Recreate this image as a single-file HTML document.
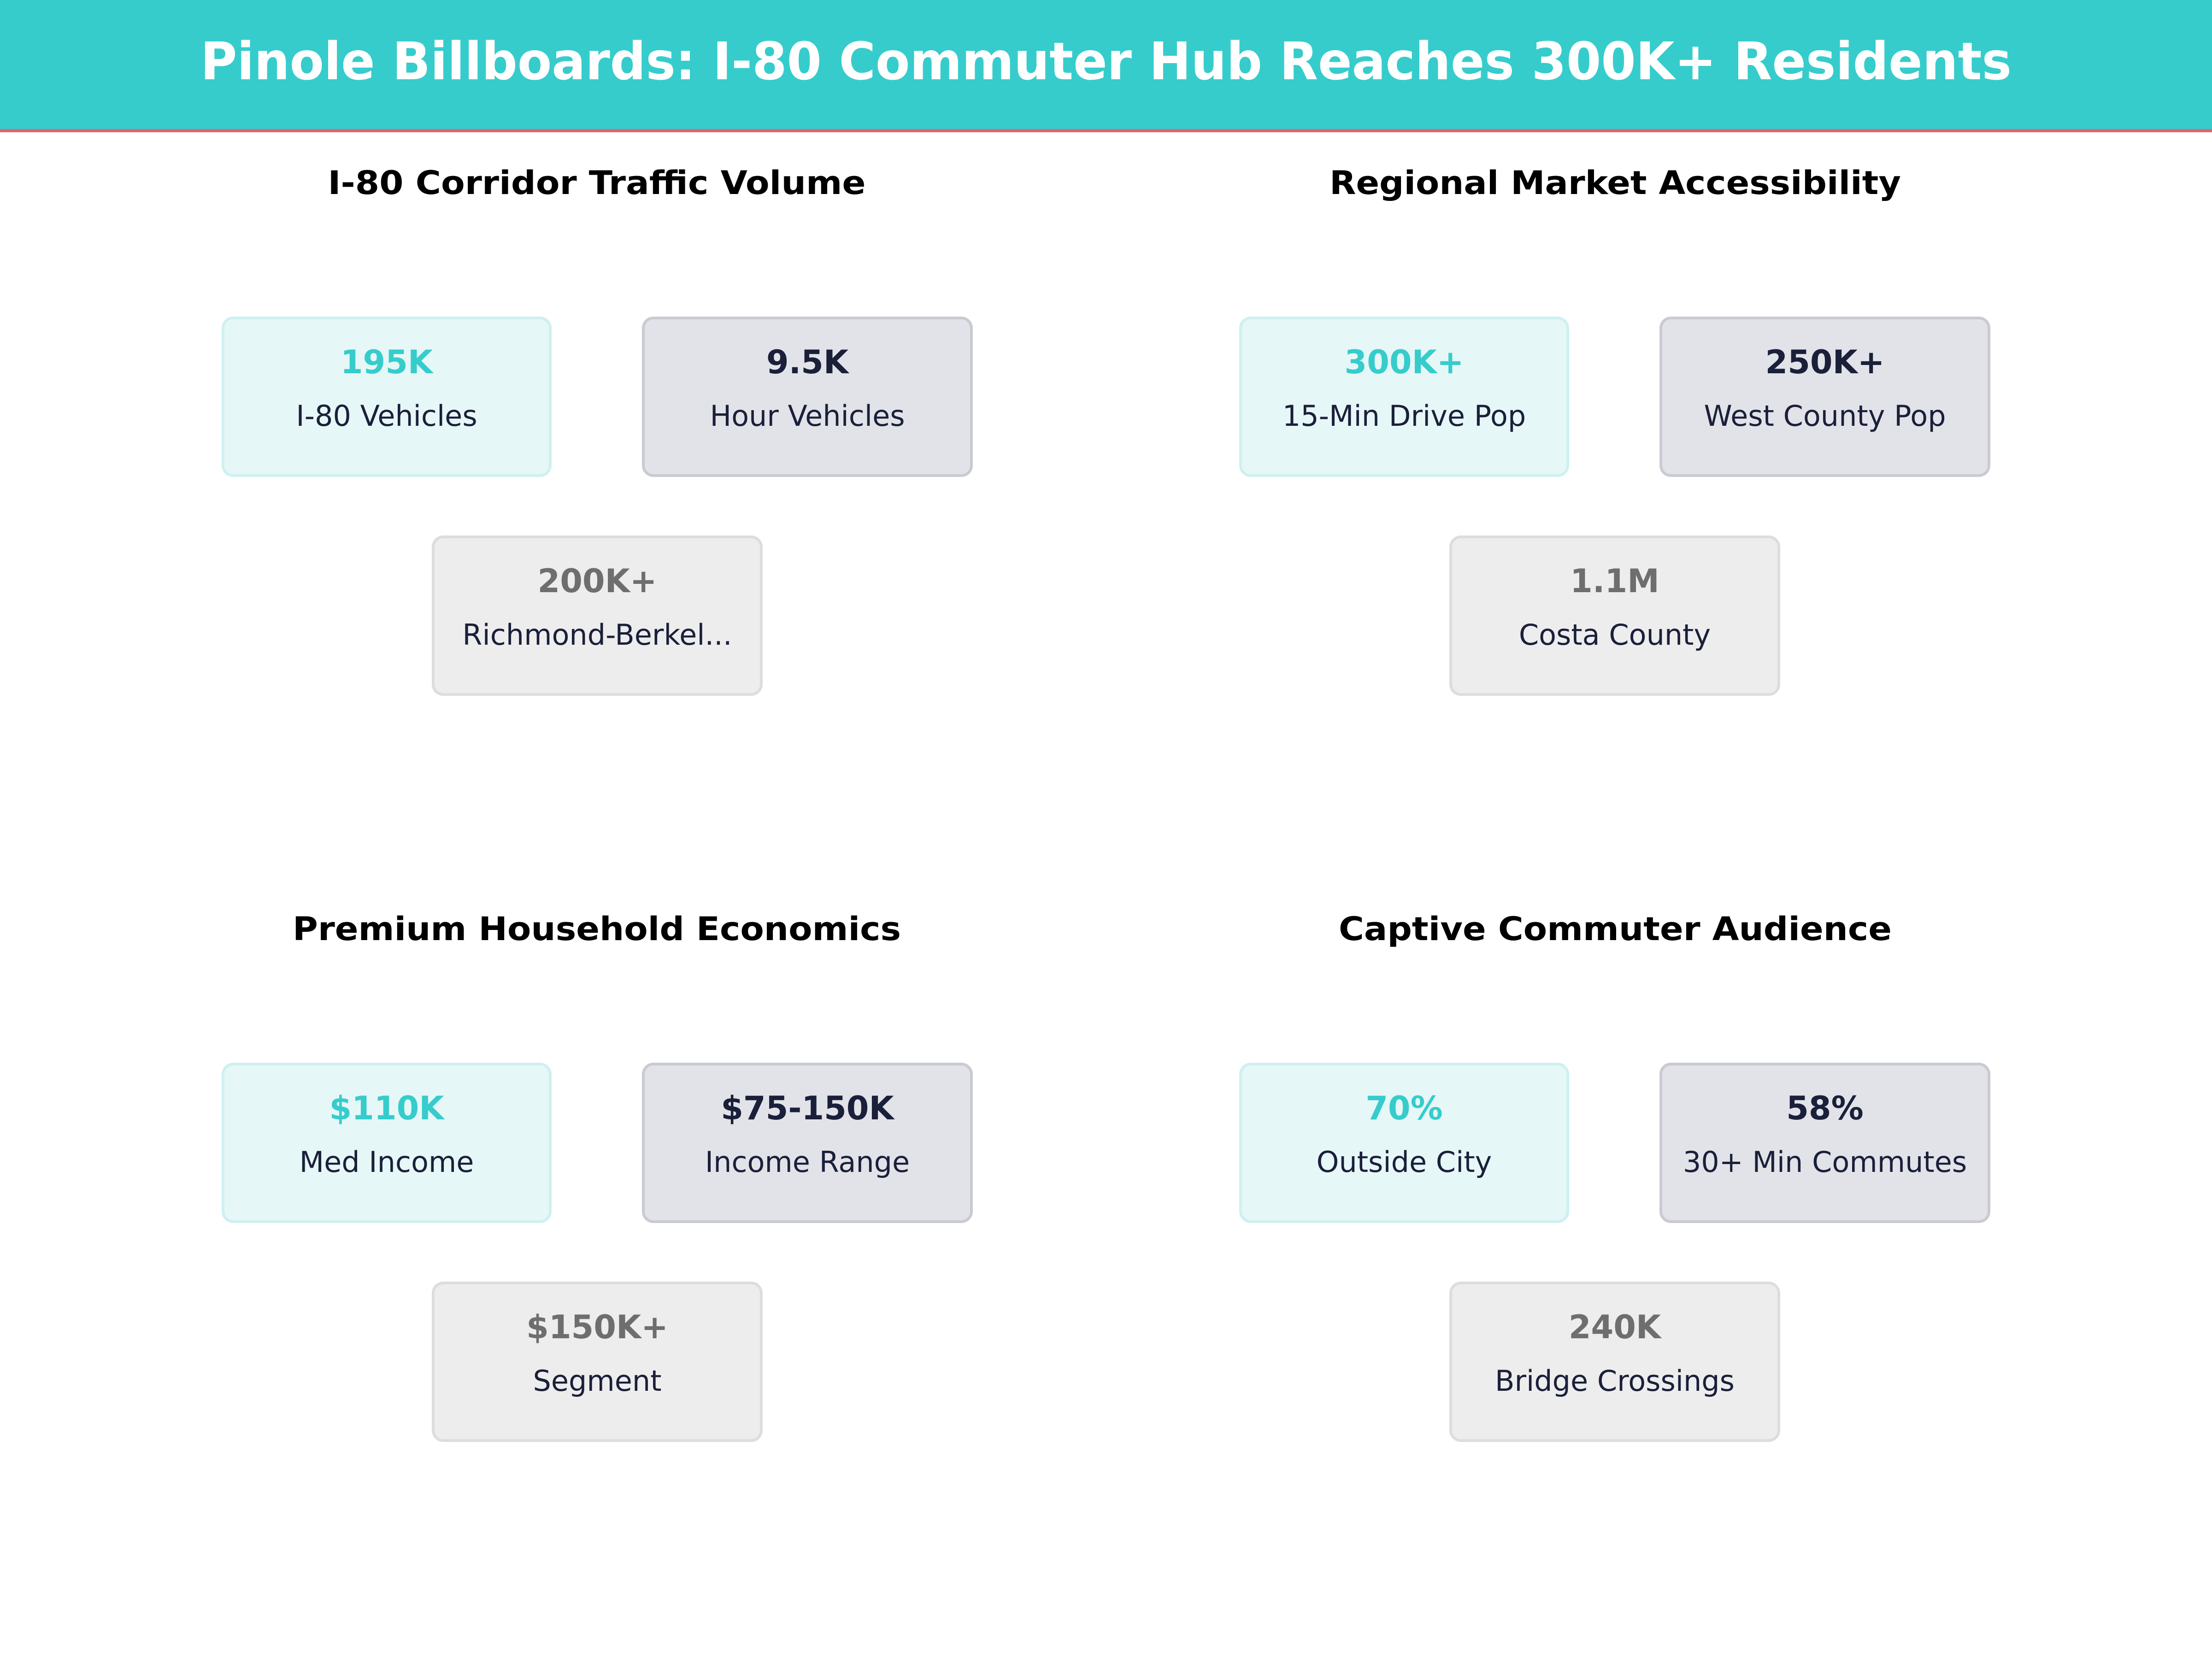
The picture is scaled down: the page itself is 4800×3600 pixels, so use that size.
<!DOCTYPE html>
<html><head><meta charset="utf-8"><style>html,body{margin:0;padding:0;background:#fff}svg{display:block}</style></head>
<body>
<svg xmlns="http://www.w3.org/2000/svg" width="4800" height="3600" viewBox="0 0 4800 3600" font-family="'DejaVu Sans','Liberation Sans',sans-serif">
<rect x="0" y="0" width="4800" height="3600" fill="#fff"/>
<rect x="0" y="0" width="4800" height="280" fill="#36CCCC"/>
<rect x="0" y="280" width="4800" height="7" fill="#E8606E"/>
<text x="2400" y="172" text-anchor="middle" font-weight="bold" font-size="112" fill="#fff" textLength="3930" lengthAdjust="spacingAndGlyphs">Pinole Billboards: I-80 Commuter Hub Reaches 300K+ Residents</text>
<defs>
<g id="c1"><rect x="484" y="690" width="710" height="342" rx="22" fill="#E6F7F7" stroke="#CFF0F1" stroke-width="6"/></g>
<g id="c2"><rect x="1396" y="690" width="712" height="342" rx="22" fill="#E2E3E8" stroke="#CACAD2" stroke-width="6"/></g>
<g id="c3"><rect x="940" y="1165" width="712" height="342" rx="22" fill="#EDEDED" stroke="#DDDDDD" stroke-width="6"/></g>
<g id="cards"><use href="#c1"/><use href="#c2"/><use href="#c3"/></g>
</defs>
<g font-size="70" font-weight="bold" fill="#000" text-anchor="middle">
<text x="1295" y="421" textLength="1167" lengthAdjust="spacingAndGlyphs">I-80 Corridor Traffic Volume</text>
<text x="3505" y="421" textLength="1240" lengthAdjust="spacingAndGlyphs">Regional Market Accessibility</text>
<text x="1295" y="2040" textLength="1320" lengthAdjust="spacingAndGlyphs">Premium Household Economics</text>
<text x="3505" y="2040" textLength="1200" lengthAdjust="spacingAndGlyphs">Captive Commuter Audience</text>
</g>
<use href="#cards"/>
<use href="#cards" transform="translate(2208,0)"/>
<use href="#cards" transform="translate(0,1619)"/>
<use href="#cards" transform="translate(2208,1619)"/>
<g text-anchor="middle">
<g font-size="70" font-weight="bold">
<text x="839" y="810" fill="#36CCCC">195K</text>
<text x="1752" y="810" fill="#1A1F3A">9.5K</text>
<text x="1296" y="1285" fill="#6E6E6E">200K+</text>
<text x="3047" y="810" fill="#36CCCC">300K+</text>
<text x="3960" y="810" fill="#1A1F3A">250K+</text>
<text x="3504" y="1285" fill="#6E6E6E">1.1M</text>
<text x="839" y="2429" fill="#36CCCC">$110K</text>
<text x="1752" y="2429" fill="#1A1F3A">$75-150K</text>
<text x="1296" y="2904" fill="#6E6E6E">$150K+</text>
<text x="3047" y="2429" fill="#36CCCC">70%</text>
<text x="3960" y="2429" fill="#1A1F3A">58%</text>
<text x="3504" y="2904" fill="#6E6E6E">240K</text>
</g>
<g font-size="62" fill="#1A1F3A">
<text x="839" y="924">I-80 Vehicles</text>
<text x="1752" y="924">Hour Vehicles</text>
<text x="1296" y="1399">Richmond-Berkel...</text>
<text x="3047" y="924">15-Min Drive Pop</text>
<text x="3960" y="924">West County Pop</text>
<text x="3504" y="1399">Costa County</text>
<text x="839" y="2543">Med Income</text>
<text x="1752" y="2543">Income Range</text>
<text x="1296" y="3018">Segment</text>
<text x="3047" y="2543">Outside City</text>
<text x="3960" y="2543">30+ Min Commutes</text>
<text x="3504" y="3018">Bridge Crossings</text>
</g>
</g>
</svg>
</body></html>
